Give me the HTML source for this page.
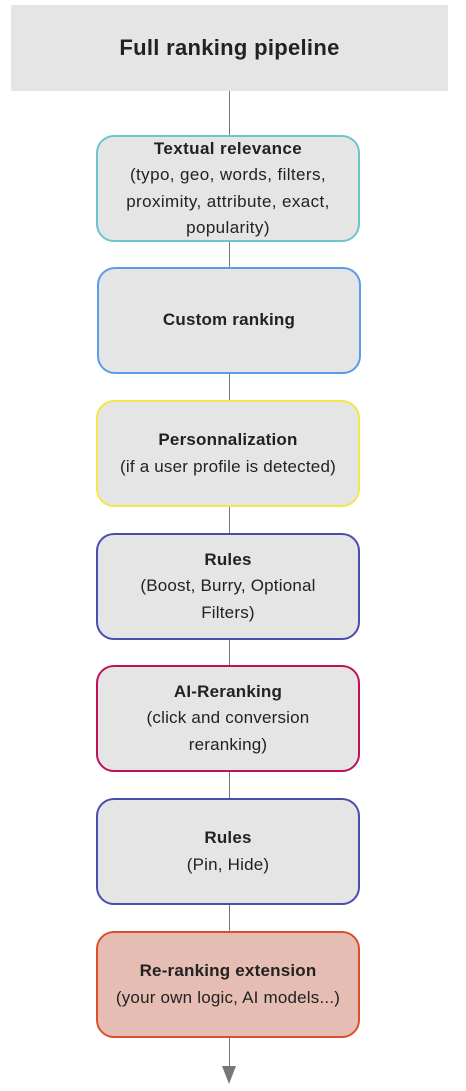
<!DOCTYPE html><html><head><style>
body{margin:0;width:466px;height:1091px;background:#fff;position:relative;font-family:"Liberation Sans",sans-serif;color:#222;overflow:hidden}
.h{position:absolute;left:11px;top:5px;width:437px;height:86px;background:#e5e5e5;display:flex;align-items:center;justify-content:center;font-weight:bold;font-size:22px;letter-spacing:0.3px}
.b{position:absolute;left:96px;width:260px;height:103px;border:2px solid;border-radius:18px;background:#e5e5e5;display:flex;flex-direction:column;align-items:center;justify-content:center;text-align:center;font-size:17px;line-height:26.5px;letter-spacing:0.2px}
.b b{font-size:17px}
.l{position:absolute;left:229px;width:1px;background:#777}
</style></head><body>
<div class="h">Full ranking pipeline</div>
<div class="l" style="top:91px;height:990px"></div>
<svg style="position:absolute;left:222px;top:1066px" width="15" height="20"><polygon points="0,0 14,0 7,18" fill="#777"/></svg>
<div class="b" style="top:135px;border-color:#6cc5cc;letter-spacing:0.4px"><b>Textual relevance</b>(typo, geo, words, filters,<br>proximity, attribute, exact,<br>popularity)</div>
<div class="b" style="top:267px;left:97px;border-color:#5b9be8"><b>Custom ranking</b></div>
<div class="b" style="top:400px;border-color:#f2e84a"><b>Personnalization</b>(if a user profile is detected)</div>
<div class="b" style="top:533px;border-color:#4b4bb0"><b>Rules</b>(Boost, Burry, Optional<br>Filters)</div>
<div class="b" style="top:665px;border-color:#c0105a"><b>AI-Reranking</b>(click and conversion<br>reranking)</div>
<div class="b" style="top:798px;border-color:#4b4bb0"><b>Rules</b>(Pin, Hide)</div>
<div class="b" style="top:931px;border-color:#d9502f;background:#e6bdb3"><b>Re-ranking extension</b>(your own logic, AI models...)</div>
</body></html>
